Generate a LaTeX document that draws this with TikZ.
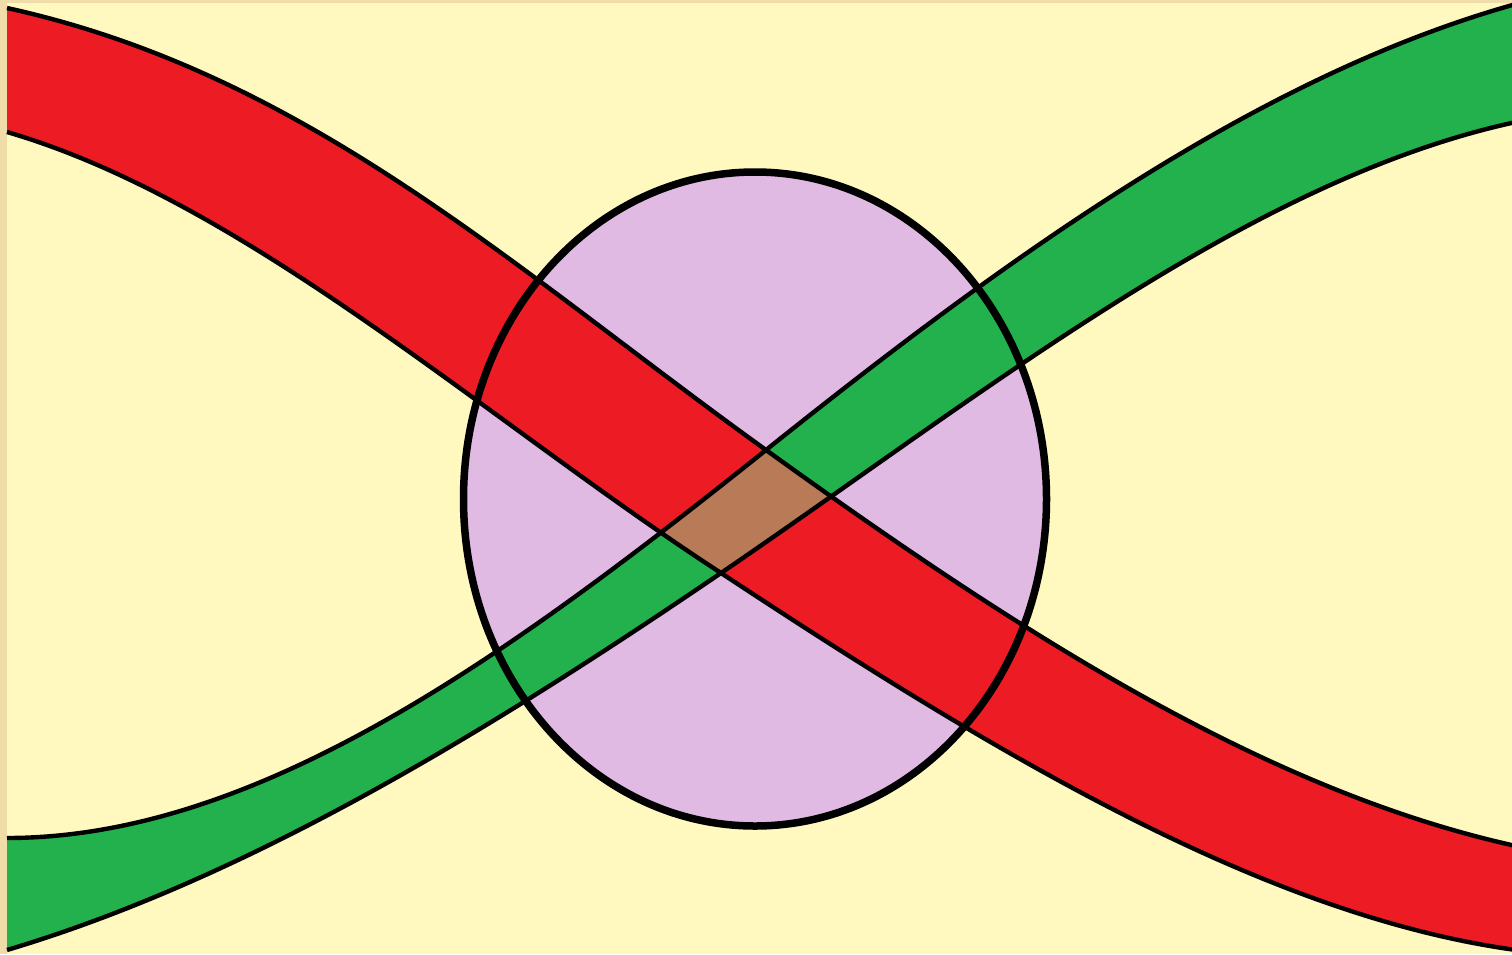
\documentclass[tikz,border=0pt]{standalone}
\definecolor{paper}{HTML}{EFDCA8}
\definecolor{bgyellow}{HTML}{FFF9C0}
\definecolor{bandred}{HTML}{ED1C24}
\definecolor{bandgreen}{HTML}{22B14C}
\definecolor{overlap}{HTML}{B97A57}
\definecolor{lilac}{HTML}{E0BAE3}
\tikzset{
  edgeline/.style={draw=black, line width=4.4pt},
  ringline/.style={draw=black, line width=7.5pt},
}
\def\redupper{(7,8) .. controls (307,74) and (513,268) .. (766,450) .. controls (1016,630) and (1262,790) .. (1516,846)}
\def\redlower{(7,132) .. controls (247,202) and (486,420) .. (721,573) .. controls (985,747) and (1260,915) .. (1516,950)}
\def\greenupper{(7,838) .. controls (260,838) and (513,652) .. (766,450) .. controls (1016,250) and (1262,75) .. (1516,4)}
\def\greenlower{(7,950) .. controls (245,879) and (483,735) .. (721,573) .. controls (985,393) and (1248,180) .. (1516,122)}
\def\redband{(7,8) .. controls (307,74) and (513,268) .. (766,450) .. controls (1016,630) and (1262,790) .. (1516,846) -- (1516,950) .. controls (1260,915) and (985,747) .. (721,573) .. controls (486,420) and (247,202) .. (7,132) -- cycle}
\def\greenband{(7,838) .. controls (260,838) and (513,652) .. (766,450) .. controls (1016,250) and (1262,75) .. (1516,4) -- (1516,122) .. controls (1248,180) and (985,393) .. (721,573) .. controls (483,735) and (245,879) .. (7,950) -- cycle}
\begin{document}
\begin{tikzpicture}[x=1pt,y=-1pt]
\useasboundingbox (0,0) rectangle (1512,954);
\clip (0,0) rectangle (1512,954);
\fill[paper] (0,0) rectangle (1512,954);
\fill[bgyellow] (7,3) rectangle (1512,954);
\fill[lilac] (755,499) ellipse [x radius=291.5, y radius=327];
\fill[bandred] \redband;
\fill[bandgreen] \greenband;
\begin{scope}
  \clip \redband;
  \fill[overlap] \greenband;
\end{scope}
\draw[edgeline] \redupper;
\draw[edgeline] \redlower;
\draw[edgeline] \greenupper;
\draw[edgeline] \greenlower;
\draw[ringline] (755,499) ellipse [x radius=291.5, y radius=327];
\end{tikzpicture}
\end{document}
